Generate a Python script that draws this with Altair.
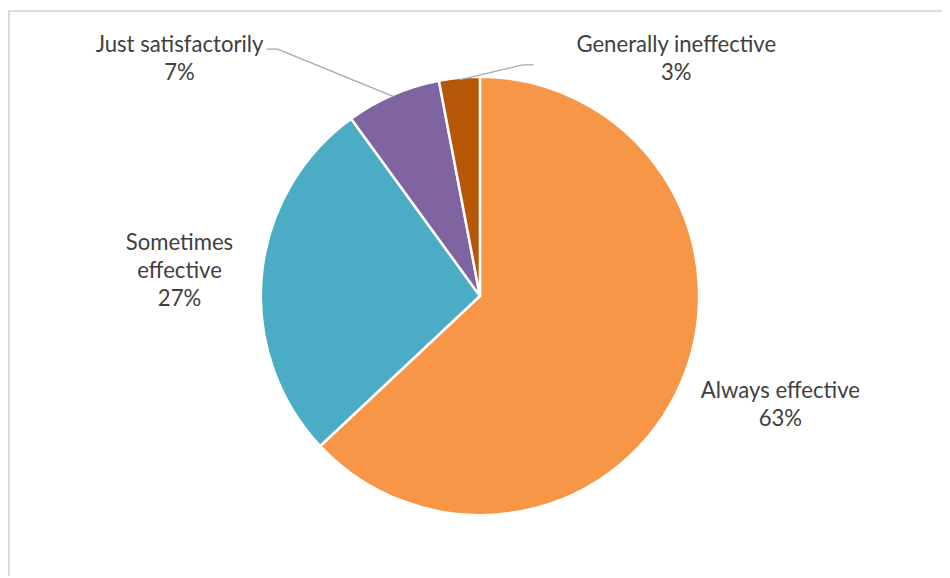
import math
import altair as alt
import pandas as pd

# ---- data ----
categories = ["Always effective", "Sometimes effective", "Just satisfactorily", "Generally ineffective"]
values = [63, 27, 7, 3]
label_lines = [["Always effective"], ["Sometimes", "effective"], ["Just satisfactorily"], ["Generally ineffective"]]
colors = ["#F79646", "#4BACC6", "#8064A2", "#B65708"]

# ---- layout ----
W, H = 942, 570
CX, CY = 476, 288
R = 221
LH = 28.5
# label block centres relative to pie centre (px)
label_offset = {
    "Always effective": (303, 110),
    "Sometimes effective": (-303, -25),
    "Just satisfactorily": (-303, -239),
    "Generally ineffective": (198, -239),
}
# leader-line knee/end relative to pie centre
leader_pts = {
    "Just satisfactorily": [(-215, -249), (-204, -249)],
    "Generally ineffective": [(54, -233), (43, -233)],
}

total = sum(values)
pie_df = pd.DataFrame({"category": categories, "value": values, "idx": list(range(len(values)))})

# mid angles from the data
mids = {}
acc = 0
for c, v in zip(categories, values):
    mids[c] = (acc + v / 2) / total * 2 * math.pi
    acc += v

lab_rows = []
for c, v, lines in zip(categories, values, label_lines):
    ox, oy = label_offset[c]
    all_lines = lines + [f"{v}%"]
    n = len(all_lines)
    lab_rows.append({"category": c, "text": "\n".join(all_lines),
                     "x": CX + ox, "y": CY + oy - (n - 1) * LH / 2})
lab_df = pd.DataFrame(lab_rows)

lead_rows = []
for c, pts in leader_pts.items():
    k = 0
    for (ox, oy) in pts:
        lead_rows.append({"category": c, "k": k, "x": CX + ox, "y": CY + oy})
        k += 1
    a = mids[c]
    lead_rows.append({"category": c, "k": k, "x": CX + (R - 2) * math.sin(a), "y": CY - (R - 2) * math.cos(a)})
lead_df = pd.DataFrame(lead_rows)

xs = alt.Scale(domain=[0, W], range=[0, W], nice=False, zero=False)
ys = alt.Scale(domain=[0, H], range=[0, H], nice=False, zero=False)

pie = alt.Chart(pie_df).mark_arc(radius=R, stroke="white", strokeWidth=2.5).encode(
    theta=alt.Theta("value:Q", stack=True),
    color=alt.Color("category:N", scale=alt.Scale(domain=categories, range=colors), legend=None),
    order=alt.Order("idx:Q"),
    x=alt.value(CX),
    y=alt.value(CY),
)

leaders = alt.Chart(lead_df).mark_line(color="#A6A6A6", strokeWidth=1.3).encode(
    x=alt.X("x:Q", scale=xs, axis=None),
    y=alt.Y("y:Q", scale=ys, axis=None),
    detail="category:N",
    order="k:Q",
)

labels = alt.Chart(lab_df).mark_text(
    font="Lato", fontSize=22.3, color="#404040", lineBreak="\n", lineHeight=LH,
    align="center", baseline="middle",
).encode(
    x=alt.X("x:Q", scale=xs, axis=None),
    y=alt.Y("y:Q", scale=ys, axis=None),
    text="text:N",
)

frame_top = alt.Chart(pie_df).mark_rule(color="#D9D9D9", strokeWidth=1.5).encode(
    x=alt.value(0), x2=alt.value(W), y=alt.value(0.75)
)
frame_left = alt.Chart(pie_df).mark_rule(color="#D9D9D9", strokeWidth=1.5).encode(
    x=alt.value(0.75), y=alt.value(0), y2=alt.value(H)
)

chart = alt.layer(frame_top, frame_left, pie, leaders, labels).properties(
    width=W, height=H, padding=0, autosize=alt.AutoSizeParams(type="none"), background="white"
).configure_view(stroke=None)

chart.save("out.html", embed_options={"renderer": "svg", "actions": False})
